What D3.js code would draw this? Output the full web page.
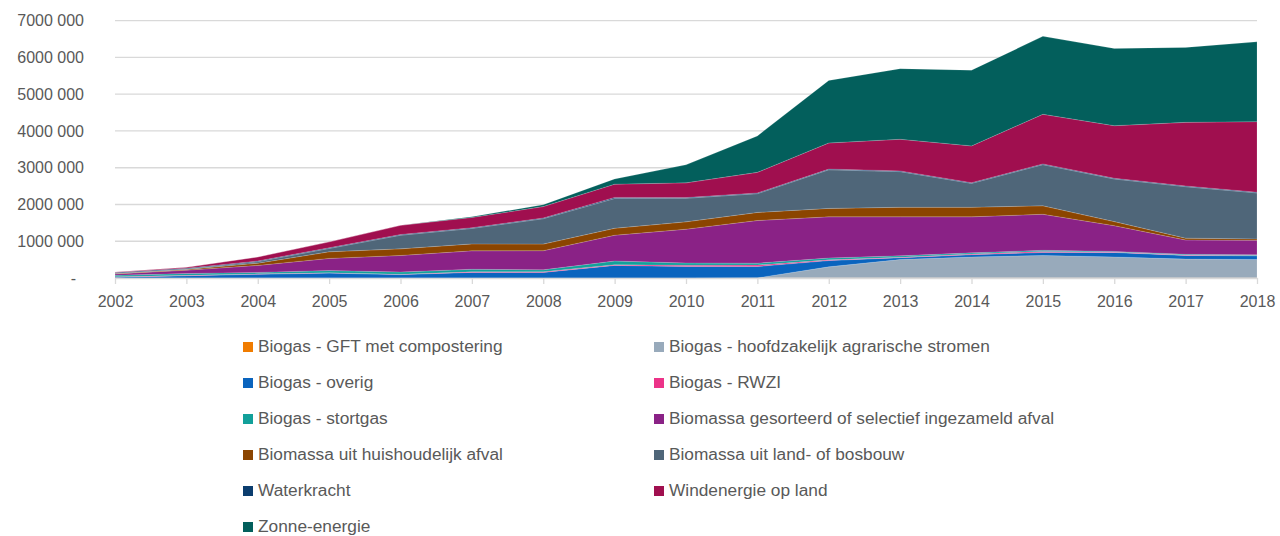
<!DOCTYPE html>
<html>
<head>
<meta charset="utf-8">
<script src="https://cdn.jsdelivr.net/npm/d3@7"></script>
<style>
  body { margin: 0; background: #fff; }
  text { font-family: "Liberation Sans", Arial, sans-serif; fill: #595959; }
</style>
</head>
<body>
<div id="chart"></div>
<script>
// jaren en reeksen
var years = [2002, 2003, 2004, 2005, 2006, 2007, 2008, 2009, 2010, 2011, 2012, 2013, 2014, 2015, 2016, 2017, 2018];

var gft         = [2000, 2000, 3000, 3000, 3000, 3000, 3000, 3000, 3000, 4000, 4000, 4000, 4000, 4000, 4000, 4000, 4000];
var agrarisch   = [0, 0, 0, 0, 0, 0, 0, 0, 0, 0, 300000, 500000, 570000, 610000, 570000, 510000, 500000];
var overig      = [20000, 60000, 100000, 130000, 90000, 150000, 150000, 340000, 310000, 310000, 170000, 50000, 60000, 80000, 120000, 100000, 100000];
var rwzi        = [10000, 10000, 10000, 10000, 10000, 15000, 20000, 20000, 35000, 40000, 20000, 10000, 20000, 30000, 10000, 10000, 10000];
var stortgas    = [40000, 50000, 40000, 60000, 60000, 70000, 50000, 100000, 60000, 50000, 50000, 40000, 30000, 30000, 20000, 20000, 20000];
var gesorteerd  = [40000, 90000, 190000, 330000, 450000, 500000, 520000, 700000, 920000, 1160000, 1120000, 1060000, 980000, 980000, 700000, 390000, 390000];
var huishoud    = [10000, 20000, 60000, 180000, 180000, 190000, 180000, 190000, 200000, 220000, 230000, 260000, 260000, 230000, 110000, 50000, 40000];
var landbos     = [10000, 10000, 40000, 90000, 370000, 420000, 690000, 810000, 640000, 510000, 1050000, 970000, 650000, 1120000, 1160000, 1400000, 1250000];
var waterkracht = [20000, 20000, 20000, 20000, 20000, 20000, 20000, 30000, 20000, 20000, 20000, 20000, 20000, 20000, 20000, 20000, 20000];
var wind        = [10000, 30000, 110000, 160000, 250000, 280000, 310000, 360000, 400000, 560000, 710000, 860000, 1000000, 1350000, 1430000, 1730000, 1920000];
var zon         = [0, 0, 0, 0, 0, 20000, 50000, 140000, 490000, 990000, 1700000, 1920000, 2060000, 2120000, 2100000, 2040000, 2170000];

var seriesNames = [
  "Biogas - GFT met compostering",
  "Biogas - hoofdzakelijk agrarische stromen",
  "Biogas - overig",
  "Biogas - RWZI",
  "Biogas - stortgas",
  "Biomassa gesorteerd of selectief ingezameld afval",
  "Biomassa uit huishoudelijk afval",
  "Biomassa uit land- of bosbouw",
  "Waterkracht",
  "Windenergie op land",
  "Zonne-energie"
];
var seriesValues = [gft, agrarisch, overig, rwzi, stortgas, gesorteerd, huishoud, landbos, waterkracht, wind, zon];
var seriesColors = ["#f07c00", "#98aabb", "#0a64be", "#ec3388", "#12a09a", "#8a2286",
                    "#8b4500", "#4f6679", "#0b3d6e", "#a00f4f", "#035f5c"];

var yTicks = [0, 1000000, 2000000, 3000000, 4000000, 5000000, 6000000, 7000000];
var yTickLabels = ["-", "1000 000", "2000 000", "3000 000", "4000 000", "5000 000", "6000 000", "7000 000"];

// tabel voor d3.stack
var table = years.map(function(yr, i) {
  var row = { year: yr };
  seriesNames.forEach(function(name, s) { row[name] = seriesValues[s][i]; });
  return row;
});

var width = 1280, height = 536;
var svg = d3.select("#chart").append("svg")
    .attr("width", width)
    .attr("height", height);

var x = d3.scalePoint().domain(years).range([115, 1257]);
var y = d3.scaleLinear().domain([0, 7000000]).range([278, 20.7]);

// rasterlijnen
svg.append("g")
  .selectAll("line")
  .data(yTicks.slice(1))
  .join("line")
    .attr("x1", 115)
    .attr("x2", 1257)
    .attr("y1", function(d) { return y(d); })
    .attr("y2", function(d) { return y(d); })
    .attr("stroke", "#d9d9d9")
    .attr("stroke-width", 1.3);

var stacked = d3.stack().keys(seriesNames)(table);

var area = d3.area()
    .x(function(d) { return x(d.data.year); })
    .y0(function(d) { return y(d[0]); })
    .y1(function(d) { return y(d[1]); });

svg.append("g")
  .selectAll("path")
  .data(stacked)
  .join("path")
    .attr("d", area)
    .attr("fill", function(d, i) { return seriesColors[i]; })
    .attr("stroke", "#ffffff")
    .attr("stroke-opacity", 0.25)
    .attr("stroke-width", 0.6);

// x-as
var xAxis = svg.append("g")
    .attr("transform", "translate(0,278)")
    .call(d3.axisBottom(x).tickSizeInner(6).tickSizeOuter(0).tickPadding(12));
xAxis.select(".domain").attr("stroke", "#d9d9d9").attr("stroke-width", 1.5);
xAxis.selectAll(".tick line").attr("stroke", "#d9d9d9").attr("stroke-width", 1.3);
xAxis.selectAll(".tick text")
    .attr("font-size", 16)
    .attr("font-family", "Liberation Sans, Arial, sans-serif")
    .attr("fill", "#595959");

// y-as labels
var yAxis = svg.append("g")
    .attr("transform", "translate(84,0)")
    .call(d3.axisLeft(y).tickValues(yTicks).tickSize(0).tickPadding(0)
      .tickFormat(function(d, i) { return yTickLabels[i]; }));
yAxis.select(".domain").remove();
yAxis.selectAll(".tick text")
    .attr("font-size", 16)
    .attr("font-family", "Liberation Sans, Arial, sans-serif")
    .attr("fill", "#595959")
    .attr("dx", function(d) { return d === 0 ? -8 : 0; });

// legenda
var legend = svg.append("g")
  .selectAll("g")
  .data(seriesNames)
  .join("g")
    .attr("transform", function(d, i) {
      var col = i % 2, row = Math.floor(i / 2);
      return "translate(" + (col === 0 ? 243 : 654) + "," + (347 + row * 36) + ")";
    });

legend.append("rect")
    .attr("x", 0)
    .attr("y", -5)
    .attr("width", 10)
    .attr("height", 10)
    .attr("fill", function(d, i) { return seriesColors[i]; });

legend.append("text")
    .attr("x", 15)
    .attr("y", 0)
    .attr("dy", "0.3em")
    .attr("font-size", 17.3)
    .text(function(d) { return d; });
</script>
</body>
</html>
